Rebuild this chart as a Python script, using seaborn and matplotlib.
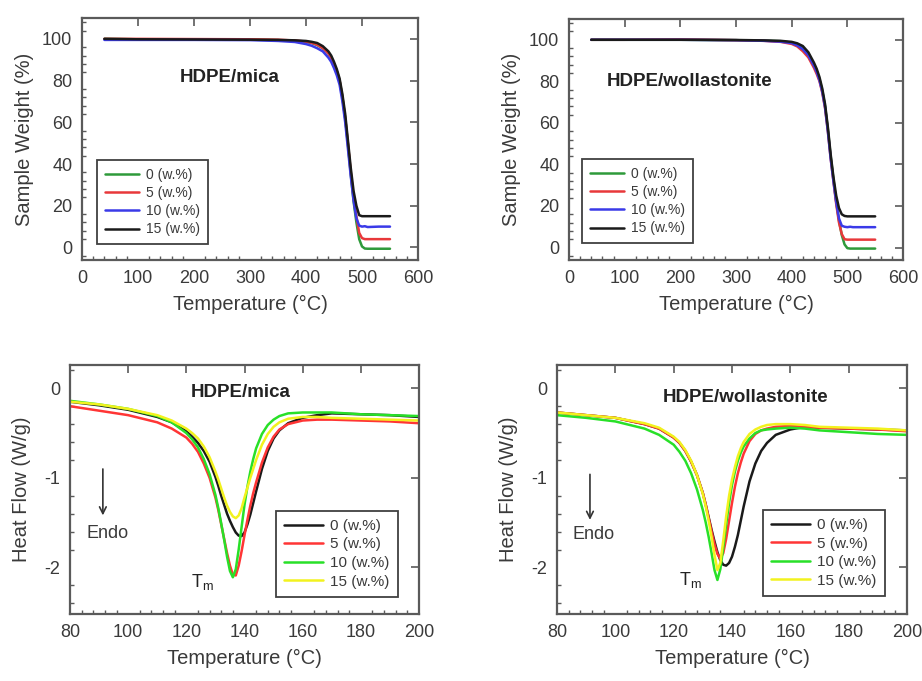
import numpy as np
import pandas as pd
import seaborn as sns
import matplotlib
matplotlib.use("Agg")
import matplotlib.pyplot as plt
from matplotlib.ticker import MultipleLocator
from matplotlib.lines import Line2D

# ---------------- data ----------------
loadings = ["0 (w.%)", "5 (w.%)", "10 (w.%)", "15 (w.%)"]

# TGA temperature grid (°C)
tga_T = [40, 100, 200, 300, 350, 380, 400, 410, 420, 430, 440, 445, 450, 455, 460, 465,
         470, 475, 480, 485, 490, 495, 500, 505, 510, 530, 550]

# HDPE/mica TGA (%)
tga_mica_0 = [100, 99.8, 99.7, 99.6, 99.4, 99.0, 98.5, 98.0, 97.0, 95.5, 93.0, 91.0, 88.0, 84.5,
              80.0, 72.0, 62.0, 49.0, 35.0, 22.0, 12.0, 4.0, 0.5, -0.5, -0.6, -0.6, -0.6]
tga_mica_5 = [100, 100, 99.9, 99.8, 99.6, 99.2, 98.7, 98.1, 97.2, 95.6, 93.0, 91.0, 88.0, 84.5,
              80.0, 72.0, 62.0, 49.5, 36.0, 24.0, 15.0, 7.0, 4.5, 4.0, 4.0, 4.0, 4.0]
tga_mica_10 = [99.5, 99.5, 99.5, 99.4, 99.0, 98.5, 97.5, 96.7, 95.5, 94.0, 91.0, 89.0, 86.0, 82.5,
               78.0, 70.0, 60.0, 47.0, 34.0, 22.5, 14.0, 10.5, 10.0, 10.2, 9.8, 10.0, 10.0]
tga_mica_15 = [100, 99.8, 99.7, 99.6, 99.5, 99.3, 99.0, 98.6, 98.0, 96.5, 94.0, 92.0, 89.0, 85.5,
               81.0, 73.5, 64.0, 51.0, 38.0, 27.0, 20.0, 15.5, 15.0, 15.0, 15.0, 15.0, 15.0]

# HDPE/wollastonite TGA (%)
tga_woll_0 = [100, 100, 100, 99.8, 99.6, 99.3, 98.6, 97.8, 96.0, 93.0, 88.0, 85.0, 81.0, 75.5,
              68.0, 57.0, 44.0, 33.0, 22.0, 13.0, 6.0, 1.5, -0.3, -0.5, -0.5, -0.5, -0.5]
tga_woll_5 = [100, 100, 100.2, 99.8, 99.5, 99.0, 98.0, 96.8, 94.5, 91.5, 86.5, 83.5, 80.0, 74.5,
              67.0, 56.0, 43.0, 32.0, 21.0, 12.0, 6.5, 4.0, 3.8, 3.8, 3.8, 3.8, 3.8]
tga_woll_10 = [100, 100, 100, 99.8, 99.5, 99.1, 98.4, 97.3, 95.5, 92.5, 87.5, 84.5, 80.5, 75.0,
               67.5, 56.0, 43.0, 32.0, 22.0, 14.0, 10.5, 10.0, 9.8, 10.0, 9.8, 9.8, 9.8]
tga_woll_15 = [100, 100, 100, 99.9, 99.7, 99.5, 99.0, 98.3, 97.0, 94.0, 89.0, 86.0, 82.0, 76.5,
               69.0, 58.0, 45.0, 34.0, 25.0, 19.0, 16.0, 15.2, 15.0, 15.0, 15.0, 15.0, 15.0]

# DSC temperature grid (°C)
dsc_T = [80, 90, 100, 110, 115, 120, 122, 124, 126, 128, 130, 131, 132, 133, 134, 135, 136, 137,
         138, 139, 140, 141, 142, 143, 144, 146, 148, 150, 152, 155, 160, 165, 170, 180, 190, 200]

# HDPE/mica DSC (W/g)
dsc_mica_0 = [-0.15, -0.19, -0.24, -0.32, -0.38, -0.48, -0.54, -0.61, -0.70, -0.82, -0.99, -1.09,
              -1.20, -1.30, -1.40, -1.48, -1.55, -1.61, -1.645, -1.65, -1.61, -1.52, -1.41, -1.28,
              -1.15, -0.90, -0.70, -0.56, -0.47, -0.39, -0.33, -0.30, -0.28, -0.29, -0.30, -0.32]
dsc_mica_5 = [-0.20, -0.25, -0.30, -0.38, -0.45, -0.55, -0.62, -0.71, -0.84, -1.00, -1.22, -1.36,
              -1.52, -1.68, -1.84, -1.98, -2.08, -2.09, -1.98, -1.82, -1.64, -1.47, -1.31, -1.17,
              -1.05, -0.83, -0.66, -0.54, -0.46, -0.40, -0.36, -0.35, -0.35, -0.36, -0.37, -0.39]
dsc_mica_10 = [-0.14, -0.18, -0.23, -0.31, -0.38, -0.50, -0.57, -0.66, -0.79, -0.96, -1.19, -1.34,
               -1.51, -1.69, -1.88, -2.04, -2.11, -2.02, -1.80, -1.55, -1.30, -1.10, -0.93, -0.79,
               -0.67, -0.51, -0.41, -0.35, -0.31, -0.28, -0.27, -0.27, -0.27, -0.29, -0.30, -0.31]
dsc_mica_15 = [-0.15, -0.18, -0.23, -0.30, -0.36, -0.45, -0.50, -0.56, -0.65, -0.77, -0.93, -1.02,
               -1.12, -1.22, -1.31, -1.38, -1.43, -1.45, -1.42, -1.34, -1.22, -1.11, -1.00, -0.90,
               -0.80, -0.63, -0.51, -0.43, -0.38, -0.34, -0.32, -0.32, -0.33, -0.34, -0.35, -0.36]

# HDPE/wollastonite DSC (W/g)
dsc_woll_0 = [-0.27, -0.30, -0.33, -0.40, -0.45, -0.55, -0.61, -0.70, -0.82, -0.97, -1.17, -1.30,
              -1.44, -1.58, -1.71, -1.83, -1.92, -1.97, -1.98, -1.95, -1.88, -1.77, -1.64, -1.48,
              -1.32, -1.04, -0.84, -0.70, -0.61, -0.52, -0.46, -0.43, -0.44, -0.45, -0.46, -0.47]
dsc_woll_5 = [-0.27, -0.30, -0.33, -0.40, -0.45, -0.55, -0.61, -0.70, -0.82, -0.97, -1.17, -1.30,
              -1.45, -1.60, -1.74, -1.85, -1.90, -1.84, -1.68, -1.48, -1.28, -1.10, -0.95, -0.83,
              -0.73, -0.59, -0.51, -0.47, -0.45, -0.43, -0.42, -0.43, -0.44, -0.45, -0.46, -0.48]
dsc_woll_10 = [-0.30, -0.33, -0.37, -0.45, -0.52, -0.63, -0.71, -0.81, -0.95, -1.13, -1.36, -1.50,
               -1.66, -1.84, -2.03, -2.14, -2.02, -1.78, -1.52, -1.28, -1.08, -0.93, -0.81, -0.72,
               -0.65, -0.56, -0.50, -0.47, -0.46, -0.45, -0.44, -0.45, -0.47, -0.49, -0.51, -0.52]
dsc_woll_15 = [-0.27, -0.30, -0.33, -0.39, -0.44, -0.54, -0.60, -0.69, -0.81, -0.97, -1.18, -1.32,
               -1.48, -1.66, -1.86, -2.03, -1.95, -1.70, -1.43, -1.20, -1.02, -0.88, -0.76, -0.67,
               -0.60, -0.51, -0.46, -0.43, -0.41, -0.40, -0.40, -0.41, -0.43, -0.44, -0.45, -0.47]

tga_colors = ["#2e9a3a", "#e8383a", "#3a3ae8", "#1a1a1a"]
dsc_colors = ["#1a1a1a", "#ff3535", "#28e028", "#f2f21e"]

# ---------------- style ----------------
sns.set_theme(style="white")
plt.rcParams["font.family"] = ["Liberation Sans", "DejaVu Sans"]
plt.rcParams["axes.unicode_minus"] = False
TXT = "#3a3a3a"
FRAME = "#5a5a5a"

fig = plt.figure(figsize=(9.22, 6.81), dpi=100)
W, H = 922, 681


def make_ax(l, r, t, b):
    return fig.add_axes([l / W, (H - b) / H, (r - l) / W, (b - t) / H])


def style_ax(ax, xmaj, xmin, ymaj, ymin):
    for s in ax.spines.values():
        s.set_color(FRAME)
        s.set_linewidth(1.6)
    ax.xaxis.set_major_locator(MultipleLocator(xmaj))
    ax.xaxis.set_minor_locator(MultipleLocator(xmin))
    ax.yaxis.set_major_locator(MultipleLocator(ymaj))
    ax.yaxis.set_minor_locator(MultipleLocator(ymin))
    ax.tick_params(which="major", direction="in", length=6, width=1.2, color=FRAME,
                   top=True, right=True, labelsize=13, labelcolor=TXT, pad=7)
    ax.tick_params(which="minor", direction="in", length=3, width=1.0, color=FRAME,
                   top=False, right=False, bottom=True, left=True)


def draw(ax, T, series, colors):
    df = pd.concat([pd.DataFrame({"T": T, "v": s, "load": lab})
                    for s, lab in zip(series, loadings)], ignore_index=True)
    pal = dict(zip(loadings, colors))
    sns.lineplot(data=df, x="T", y="v", hue="load", palette=pal, ax=ax,
                 estimator=None, sort=False, linewidth=1.8, legend=False)
    return [Line2D([], [], color=c, lw=1.8) for c in colors]


def legend(ax, handles, loc, anchor, fs):
    lg = ax.legend(handles, loadings, loc=loc, bbox_to_anchor=anchor, frameon=True,
                   fancybox=False, fontsize=fs, handlelength=2.5, handletextpad=0.5,
                   labelspacing=0.3, borderpad=0.55, borderaxespad=0.0, framealpha=1)
    lg.get_frame().set_edgecolor("#404040")
    lg.get_frame().set_linewidth(1.3)
    for t in lg.get_texts():
        t.set_color(TXT)


# Top-left: TGA mica
ax1 = make_ax(82, 418, 18, 260)
h = draw(ax1, tga_T, [tga_mica_0, tga_mica_5, tga_mica_10, tga_mica_15], tga_colors)
ax1.set_xlim(0, 600)
ax1.set_ylim(-6, 110)
style_ax(ax1, 100, 20, 20, 4)
ax1.set_xlabel("Temperature (°C)", fontsize=14.5, color=TXT, labelpad=6)
ax1.set_ylabel("Sample Weight (%)", fontsize=14.5, color=TXT, labelpad=6)
ax1.text(0.44, 0.755, "HDPE/mica", transform=ax1.transAxes, ha="center", va="center",
         fontsize=13.5, fontweight="bold", color="#222222")
legend(ax1, h, "lower left", (0.045, 0.066), 10)

# Top-right: TGA wollastonite
ax2 = make_ax(569, 903, 19, 260)
h = draw(ax2, tga_T, [tga_woll_0, tga_woll_5, tga_woll_10, tga_woll_15], tga_colors)
ax2.set_xlim(0, 600)
ax2.set_ylim(-6, 110)
style_ax(ax2, 100, 20, 20, 4)
ax2.set_xlabel("Temperature (°C)", fontsize=14.5, color=TXT, labelpad=6)
ax2.set_ylabel("Sample Weight (%)", fontsize=14.5, color=TXT, labelpad=6)
ax2.text(0.36, 0.74, "HDPE/wollastonite", transform=ax2.transAxes, ha="center", va="center",
         fontsize=13.5, fontweight="bold", color="#222222")
legend(ax2, h, "lower left", (0.039, 0.07), 10)

# Bottom-left: DSC mica
ax3 = make_ax(70, 419, 365, 614)
h = draw(ax3, dsc_T, [dsc_mica_0, dsc_mica_5, dsc_mica_10, dsc_mica_15], dsc_colors)
ax3.set_xlim(80, 200)
ax3.set_ylim(-2.52, 0.26)
style_ax(ax3, 20, 4, 1, 0.2)
ax3.set_xlabel("Temperature (°C)", fontsize=14.5, color=TXT, labelpad=6)
ax3.set_ylabel("Heat Flow (W/g)", fontsize=14.5, color=TXT, labelpad=10)
ax3.text(0.49, 0.89, "HDPE/mica", transform=ax3.transAxes, ha="center", va="center",
         fontsize=13.5, fontweight="bold", color="#222222")
legend(ax3, h, "lower right", (0.94, 0.068), 11)
ax3.annotate("", xy=(91.3, -1.45), xytext=(91.3, -0.87),
             arrowprops=dict(arrowstyle="->", color="#333333", lw=1.2))
ax3.text(93, -1.62, "Endo", ha="center", va="center", fontsize=13, color=TXT)
ax3.text(125.7, -2.16, "T$_\\mathregular{m}$", ha="center", va="center", fontsize=13, color="#222222")

# Bottom-right: DSC wollastonite
ax4 = make_ax(557, 907, 365, 614)
h = draw(ax4, dsc_T, [dsc_woll_0, dsc_woll_5, dsc_woll_10, dsc_woll_15], dsc_colors)
ax4.set_xlim(80, 200)
ax4.set_ylim(-2.52, 0.26)
style_ax(ax4, 20, 4, 1, 0.2)
ax4.set_xlabel("Temperature (°C)", fontsize=14.5, color=TXT, labelpad=6)
ax4.set_ylabel("Heat Flow (W/g)", fontsize=14.5, color=TXT, labelpad=10)
ax4.text(0.54, 0.87, "HDPE/wollastonite", transform=ax4.transAxes, ha="center", va="center",
         fontsize=13.5, fontweight="bold", color="#222222")
legend(ax4, h, "lower right", (0.937, 0.072), 11)
ax4.annotate("", xy=(91.3, -1.5), xytext=(91.3, -0.93),
             arrowprops=dict(arrowstyle="->", color="#333333", lw=1.2))
ax4.text(92.5, -1.63, "Endo", ha="center", va="center", fontsize=13, color=TXT)
ax4.text(125.6, -2.14, "T$_\\mathregular{m}$", ha="center", va="center", fontsize=13, color="#222222")

fig.savefig("out.png", dpi=100, facecolor="white")
